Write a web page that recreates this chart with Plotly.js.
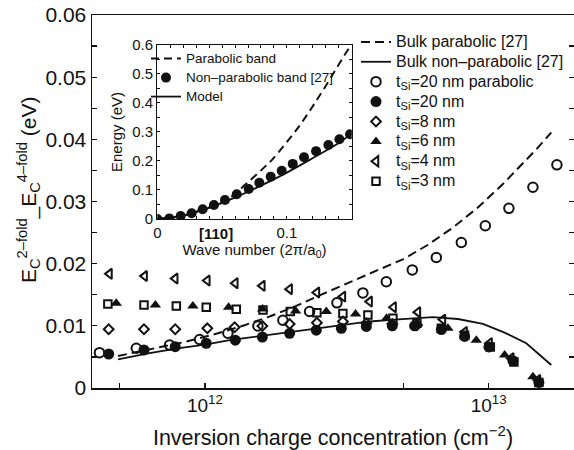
<!DOCTYPE html>
<html>
<head>
<meta charset="utf-8">
<script src="https://cdn.plot.ly/plotly-3.0.1.min.js"></script>
<style>html,body{margin:0;padding:0;background:#fff;}#chart{width:574px;height:450px;}</style>
</head>
<body>
<div id="chart"></div>
<script>
// ---------- main plot data ----------
const nBulkPar = [4.94e11,6.47e11,8.48e11,1.111e12,1.38e12,1.69e12,2.1e12,2.537e12,3.108e12,3.807e12,4.988e12,6.095e12,7.486e12,9.146e12,1.123e13,1.287e13,1.473e13,1.663e13];
const eBulkPar = [0.00515,0.0063,0.0074,0.0088,0.0101,0.0115,0.0132,0.0149,0.0166,0.0184,0.0207,0.0230,0.0258,0.0290,0.0328,0.0356,0.0384,0.0411];

const nBulkNon = [4.94e11,6.38e11,8.14e11,1.014e12,1.222e12,1.598e12,1.989e12,2.537e12,3.108e12,3.807e12,4.664e12,5.268e12,6.365e12,7.796e12,9.548e12,1.139e13,1.358e13,1.663e13];
const eBulkNon = [0.0046,0.0056,0.0064,0.0070,0.0077,0.0084,0.0090,0.0097,0.0102,0.0107,0.0110,0.0112,0.0114,0.0111,0.0103,0.0089,0.0072,0.0037];

const n20par = [4.25e11,5.73e11,7.51e11,9.58e11,1.205e12,1.537e12,1.883e12,2.339e12,2.92e12,3.605e12,4.36e12,5.383e12,6.543e12,8.014e12,9.736e12,1.179e13,1.433e13,1.741e13];
const e20par = [0.00568,0.0064,0.0069,0.0078,0.0088,0.00998,0.0109,0.0123,0.0137,0.0153,0.0171,0.0190,0.0210,0.0234,0.0261,0.0289,0.0323,0.0359];

const n20 = [4.58e11,6.10e11,7.86e11,1.011e12,1.28e12,1.594e12,1.989e12,2.47e12,3.026e12,3.707e12,4.577e12,5.485e12,6.813e12,8.231e12,1.0026e13,1.218e13,1.504e13];
const e20 = [0.00547,0.00612,0.00665,0.0072,0.0077,0.0082,0.0088,0.0093,0.0096,0.0099,0.0100,0.0100,0.0094,0.0083,0.0066,0.0044,0.0009];

const n8 = [4.58e11,6.10e11,7.86e11,1.02e12,1.273e12,1.594e12,1.989e12,2.482e12,3.065e12,3.707e12,4.577e12,5.588e12];
const e8 = [0.00945,0.00945,0.00945,0.0096,0.00977,0.00998,0.0103,0.0105,0.0107,0.0104,0.0103,0.0101];

const n6 = [4.87e11,6.69e11,9.07e11,1.212e12,1.598e12,2.088e12,2.679e12,3.398e12,4.37e12,5.619e12,7.188e12,9.05e12,1.139e13,1.433e13];
const e6 = [0.01364,0.01337,0.0132,0.0130,0.0127,0.0124,0.0123,0.0119,0.0112,0.0104,0.0096,0.0077,0.0053,0.0018];

const n4 = [4.61e11,6.13e11,7.86e11,1.02e12,1.28e12,1.594e12,1.989e12,2.482e12,3.065e12,3.807e12,4.625e12,5.633e12,6.902e12,8.231e12,1.008e13,1.202e13,1.492e13];
const e4 = [0.01836,0.0180,0.0176,0.01728,0.01686,0.01643,0.0159,0.01535,0.0147,0.0139,0.0130,0.0122,0.0110,0.0090,0.0072,0.0048,0.0013];

const n3 = [4.55e11,6.10e11,7.93e11,1.011e12,1.29e12,1.602e12,2.0e12,2.482e12,3.065e12,3.755e12,4.6e12,5.588e12,6.813e12,8.231e12,1.014e13,1.228e13,1.504e13];
const e3 = [0.01353,0.01337,0.0132,0.0130,0.01267,0.01256,0.0123,0.0121,0.0120,0.01176,0.0112,0.0104,0.0096,0.0085,0.0066,0.0042,0.0009];

const xTickVals = [5e11,1e12,5e12,1e13];
const xTickText = ['', '10<sup>12</sup>', '', '10<sup>13</sup>'];

// ---------- inset data ----------
const kDots = [0,0.0093,0.018,0.0265,0.035,0.0437,0.0522,0.0613,0.0705,0.0787,0.0875,0.096,0.1045,0.1132,0.1225,0.132,0.1405,0.1487];
const eDots = [0,0.002,0.0103,0.0197,0.0334,0.0483,0.0655,0.085,0.1034,0.125,0.146,0.1666,0.19,0.213,0.234,0.255,0.275,0.292];
const kPar = [0,0.018,0.035,0.0535,0.069,0.0844,0.0895,0.1101,0.128,0.1487,0.15];
const ePar = [0,0.0095,0.033,0.0655,0.123,0.186,0.209,0.324,0.445,0.594,0.60];
const kModel = [0,0.02,0.04,0.06,0.08,0.10,0.12,0.14,0.15];
const eModel = [0,0.012,0.038,0.074,0.115,0.160,0.210,0.262,0.295];
const insetXTickVals = [0,0.1];
const insetXTickText = ['0','0.1'];

const FONT = 'Liberation Sans, Arial, Helvetica, sans-serif';
const INK = '#111';
const L1 = s => '<span style="font-size:16px">' + s + '</span>';
const L2 = s => '<span style="font-size:13.5px">' + s + '</span>';

const traces = [
  {x:nBulkPar, y:eBulkPar, mode:'lines', name:L1('Bulk parabolic [27]'), line:{color:INK,width:2,dash:'9px,5px'}, xaxis:'x', yaxis:'y'},
  {x:nBulkNon, y:eBulkNon, mode:'lines', name:L1('Bulk non\u2013parabolic [27]'), line:{color:INK,width:1.8}, xaxis:'x', yaxis:'y'},
  {x:n20par, y:e20par, mode:'markers', name:L1('t<sub>Si</sub>=20 nm parabolic'), marker:{symbol:'circle-open',size:9.5,color:INK,line:{width:2,color:INK}}},
  {x:n20, y:e20, mode:'markers', name:L1('t<sub>Si</sub>=20 nm'), marker:{symbol:'circle',size:11,color:INK}},
  {x:n8, y:e8, mode:'markers', name:L1('t<sub>Si</sub>=8 nm'), marker:{symbol:'diamond-open',size:7.5,color:INK,line:{width:2,color:INK}}},
  {x:n6, y:e6, mode:'markers', name:L1('t<sub>Si</sub>=6 nm'), marker:{symbol:'triangle-up',size:10,color:INK}},
  {x:n4, y:e4, mode:'markers', name:L1('t<sub>Si</sub>=4 nm'), marker:{symbol:'triangle-left-open',size:9,color:INK,line:{width:2,color:INK}}},
  {x:n3, y:e3, mode:'markers', name:L1('t<sub>Si</sub>=3 nm'), marker:{symbol:'square-open',size:7.5,color:INK,line:{width:2,color:INK}}},
  {x:kPar, y:ePar, mode:'lines', name:L2('Parabolic band'), line:{color:INK,width:2,dash:'8px,5px',shape:'spline'}, xaxis:'x2', yaxis:'y2', legend:'legend2'},
  {x:kDots, y:eDots, mode:'markers', name:L2('Non\u2013parabolic band [27]'), marker:{symbol:'circle',size:10,color:INK}, xaxis:'x2', yaxis:'y2', legend:'legend2'},
  {x:kModel, y:eModel, mode:'lines', name:L2('Model'), line:{color:INK,width:1.8,shape:'spline'}, xaxis:'x2', yaxis:'y2', legend:'legend2'}
];

const layout = {
  width:574, height:450,
  margin:{l:92,r:0,t:15,b:62},
  paper_bgcolor:'#fff', plot_bgcolor:'rgba(0,0,0,0)',
  font:{family:FONT,color:INK},
  showlegend:true,
  xaxis:{
    type:'log', range:[Math.log10(4e11), Math.log10(2e13)],
    tickmode:'array', tickvals:xTickVals, ticktext:xTickText,
    ticks:'inside', ticklen:5, tickwidth:1.2, tickcolor:INK,
    showline:true, linewidth:1.5, linecolor:INK, mirror:true,
    showgrid:false, zeroline:false,
    tickfont:{size:19},
    title:{text:'Inversion charge concentration (cm<sup>\u22122</sup>)', font:{size:21.5}}
  },
  yaxis:{
    range:[0,0.06], tick0:0, dtick:0.01,
    ticks:'inside', ticklen:5, tickwidth:1.2, tickcolor:INK,
    minor:{dtick:0.005, tick0:0, ticks:'inside', ticklen:5, tickwidth:1.2, tickcolor:INK, showgrid:false},
    showline:true, linewidth:1.5, linecolor:INK, mirror:'ticks',
    showgrid:false, zeroline:false,
    tickfont:{size:21},
    title:{text:'&nbsp;&nbsp;&nbsp;&nbsp;E<sub>C</sub><sup>2\u2013fold</sup>_E<sub>C</sub><sup>4\u2013fold</sup> (eV)', font:{size:21}}
  },
  xaxis2:{
    domain:[0.1355,0.5388], anchor:'y2', range:[0,0.15],
    tickmode:'array', tickvals:insetXTickVals, ticktext:insetXTickText,
    ticks:'inside', ticklen:3, tickwidth:1, tickcolor:INK,
    minor:{dtick:0.01, tick0:0, ticks:'inside', ticklen:3, tickwidth:1, tickcolor:INK, showgrid:false},
    showline:true, linewidth:1.3, linecolor:INK, mirror:'ticks',
    showgrid:false, zeroline:false,
    tickfont:{size:15},
    title:{text:'Wave number (2\u03c0/a<sub>0</sub>)', font:{size:15}, standoff:4}
  },
  yaxis2:{
    domain:[0.4531,0.9196], anchor:'x2', range:[0,0.6], tick0:0, dtick:0.1,
    ticks:'inside', ticklen:3, tickwidth:1, tickcolor:INK,
    minor:{dtick:0.05, tick0:0, ticks:'inside', ticklen:3, tickwidth:1, tickcolor:INK, showgrid:false},
    showline:true, linewidth:1.3, linecolor:INK, mirror:'ticks',
    showgrid:false, zeroline:false,
    tickfont:{size:15},
    title:{text:'Energy (eV)', font:{size:15}, standoff:6}
  },
  legend:{
    x:0.5477, xanchor:'left', y:0.968, yanchor:'top',
    bgcolor:'rgba(0,0,0,0)', borderwidth:0,
    font:{size:13}, tracegroupgap:0, itemwidth:30
  },
  legend2:{
    x:0.112, xanchor:'left', y:0.922, yanchor:'top',
    bgcolor:'rgba(0,0,0,0)', borderwidth:0,
    font:{size:11}, tracegroupgap:0, itemwidth:30
  },
  annotations:[
    {text:'<b>[110]</b>', xref:'x2', x:0.045, yref:'paper', y:0.4155, yanchor:'middle', showarrow:false, font:{size:15}}
  ]
};

Plotly.newPlot('chart', traces, layout, {displayModeBar:false, staticPlot:true});
</script>
</body>
</html>
